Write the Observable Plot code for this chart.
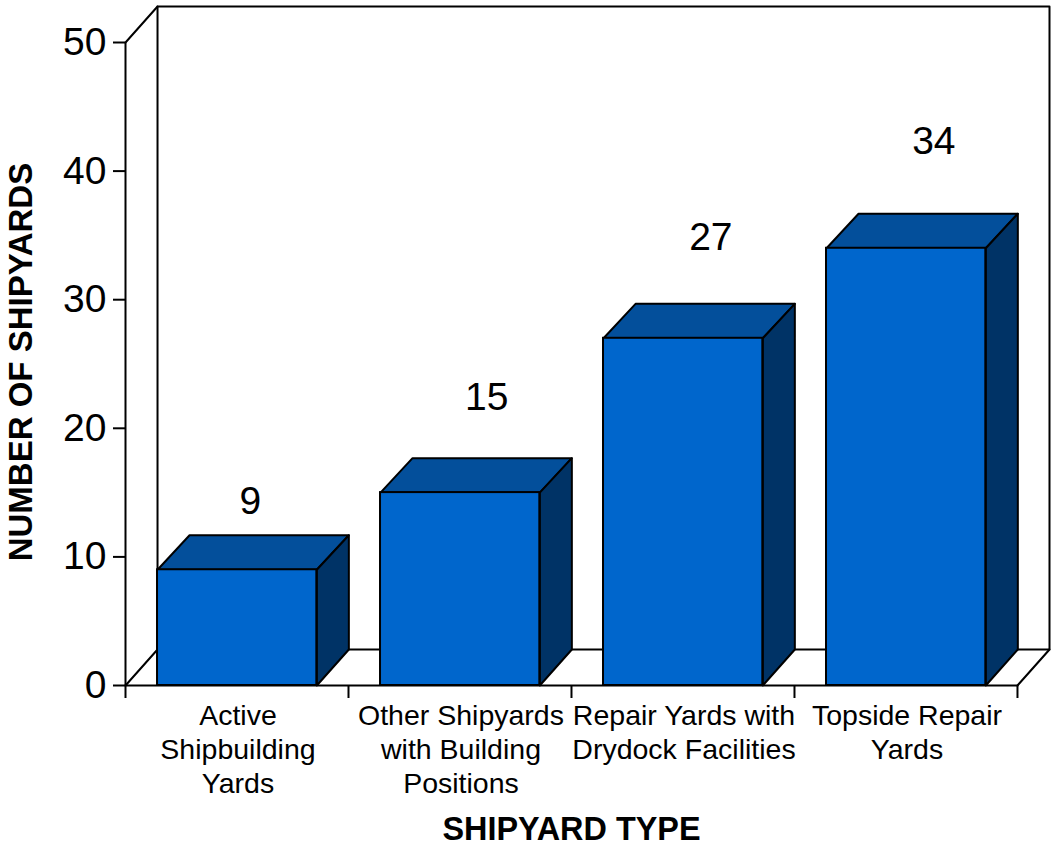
<!DOCTYPE html>
<html>
<head>
<meta charset="utf-8">
<script src="https://cdn.jsdelivr.net/npm/d3@7"></script>
<script src="https://cdn.jsdelivr.net/npm/@observablehq/plot@0.6"></script>
<style>
  html, body { margin: 0; padding: 0; background: #fff; }
  svg { display: block; }
</style>
</head>
<body>
<div id="chart"></div>
<script>
const categories = [
  "Active\nShipbuilding\nYards",
  "Other Shipyards\nwith Building\nPositions",
  "Repair Yards with\nDrydock Facilities",
  "Topside Repair\nYards"
];
const counts = [9, 15, 27, 34];
const yTicks = [0, 10, 20, 30, 40, 50];
const xTicks = [0, 1, 2, 3, 4];
const xTitle = "SHIPYARD TYPE";
const yTitle = "NUMBER OF SHIPYARDS";

// Oblique projection, in scale units
const depthX = 0.1436, floorDepthY = 2.8, topDepthY = 2.68;
const barStart = 0.1436, barEnd = 0.858;
const yMax = 50, nCats = categories.length;
// Where each value label floats, relative to its category centre and value
const labelShiftX = [0.56, 0.62, 0.625, 0.625];
const labelLift = [5.3, 7.4, 7.85, 8.3];

const seq = (z, pts) => pts.map(([x, y]) => ({z, x, y}));

const wall = [
  ...seq("back", [[depthX, floorDepthY], [depthX, yMax + floorDepthY], [nCats + depthX, yMax + floorDepthY], [nCats + depthX, floorDepthY], [depthX, floorDepthY]]),
  ...seq("leftTop", [[0, yMax], [depthX, yMax + floorDepthY]]),
  ...seq("leftBottom", [[0, 0], [depthX, floorDepthY]]),
  ...seq("rightBottom", [[nCats, 0], [nCats + depthX, floorDepthY]]),
  ...seq("base", [[0, 0], [nCats, 0]])
];

const tops = [], sides = [];
counts.forEach((v, i) => {
  const a = i + barStart, b = i + barEnd;
  tops.push(...seq("t" + i, [[a, v], [a + depthX, v + topDepthY], [b + depthX, v + topDepthY], [b, v], [a, v]]));
  sides.push(...seq("s" + i, [[b, 0], [b + depthX, floorDepthY], [b + depthX, v + topDepthY], [b, v], [b, 0]]));
});
const fronts = counts.map((v, i) => ({x1: i + barStart, x2: i + barEnd, v}));

const font = "'Liberation Sans', Arial, sans-serif";
const lineOpts = {x: "x", y: "y", z: "z", stroke: "#000", strokeWidth: 2, curve: "linear"};

const chart = Plot.plot({
  width: 1051,
  height: 846,
  marginLeft: 125,
  marginRight: 2,
  marginTop: 42,
  marginBottom: 161,
  style: {background: "#fff", fontFamily: font, color: "#000"},
  x: {type: "linear", domain: [0, nCats + depthX], axis: null},
  y: {type: "linear", domain: [0, yMax], axis: null},
  marks: [
    Plot.line(wall, lineOpts),
    Plot.line(tops, {...lineOpts, fill: "#034f9b"}),
    Plot.line(sides, {...lineOpts, fill: "#003366"}),
    Plot.rect(fronts, {x1: "x1", x2: "x2", y1: 0, y2: "v", fill: "#0066cc", stroke: "#000", strokeWidth: 2}),
    Plot.axisY({ticks: yTicks, tickSize: 12, tickPadding: 7, fontSize: 39, strokeWidth: 2, label: null, tickFormat: d => String(d), fill: "#000"}),
    Plot.ruleX([0], {y1: 0, y2: yMax, stroke: "#000", strokeWidth: 2}),
    Plot.axisX({ticks: xTicks, tickSize: 13, strokeWidth: 2, label: null, tickFormat: () => ""}),
    Plot.text(categories, {
      x: (d, i) => i + 0.5, y: 0, text: d => d, dx: 1, dy: 16,
      lineAnchor: "top", lineHeight: 1.18, fontSize: 28.5, fill: "#000"
    }),
    Plot.text(counts, {
      x: (d, i) => i + labelShiftX[i], y: (d, i) => d + labelLift[i], text: d => String(d),
      fontSize: 39, fill: "#000"
    }),
    Plot.text([xTitle], {x: () => 2, y: () => 0, text: d => d, dy: 144, fontSize: 32.4, fontWeight: "bold", fill: "#000"}),
    Plot.text([yTitle], {x: () => 0, y: () => 25.15, text: d => d, dx: -104, rotate: -90, fontSize: 33, fontWeight: "bold", fill: "#000"})
  ]
});
document.getElementById("chart").append(chart);
</script>
</body>
</html>
